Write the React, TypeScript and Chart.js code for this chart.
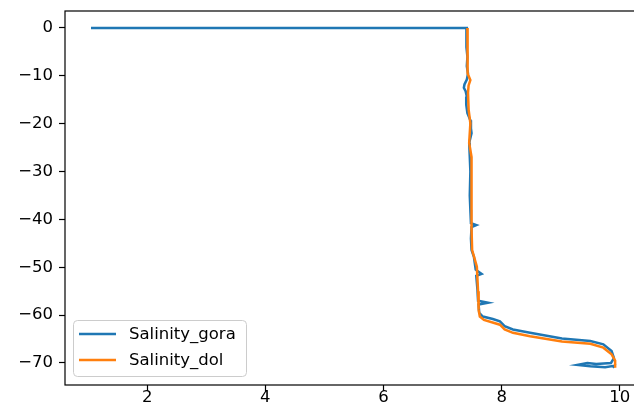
import React, { useEffect, useRef } from 'react';
import { Chart, registerables } from 'chart.js';

Chart.register(...registerables);

const seriesNames = ['Salinity_gora', 'Salinity_dol'];
const seriesColors = ['#1f77b4', '#ff7f0e'];

// Salinity_gora (salinity, depth)
const goraSalinity = [
  1.05, 7.41, 7.40, 7.41, 7.40, 7.42, 7.41, 7.43, 7.41, 7.37, 7.36, 7.39, 7.41, 7.40, 7.42, 7.47,
  7.48, 7.49, 7.45, 7.46, 7.47, 7.46, 7.47, 7.48, 7.57, 7.49, 7.48, 7.49, 7.53, 7.56, 7.66, 7.57,
  7.59, 7.60, 7.77, 7.61, 7.62, 7.68, 7.85, 7.97, 8.05, 8.19, 8.48, 9.02, 9.50, 9.72, 9.86, 9.90,
  9.85, 9.60, 9.45, 9.28, 9.50, 9.75, 9.90, 9.88,
];
const goraDepth = [
  0, 0, -0.5, -2, -4, -6, -8, -9.5, -10.8, -11.8, -12.5, -13.2, -14.3, -16, -17.8, -19.3,
  -21, -22, -24, -26.9, -30, -35, -38, -40.8, -41.2, -41.6, -44, -46.4, -47.8, -50.5, -51.4, -51.8,
  -54.7, -57, -57.4, -57.8, -59.5, -60.3, -60.8, -61.3, -62.3, -63.0, -63.7, -64.9, -65.4, -66.1, -67.5, -69.0,
  -70.0, -70.2, -70.0, -70.4, -70.7, -70.9, -70.6, -71.0,
];

// Salinity_dol (salinity, depth)
const dolSalinity = [
  7.42, 7.42, 7.43, 7.42, 7.47, 7.44, 7.43, 7.44, 7.47, 7.45, 7.49, 7.49, 7.49, 7.50, 7.58, 7.60,
  7.61, 7.63, 7.70, 7.97, 8.05, 8.19, 8.48, 9.02, 9.50, 9.72, 9.86, 9.92, 9.92,
];
const dolDepth = [
  0, -3, -6, -9.5, -10.9, -12, -13.5, -17, -19.9, -24, -27, -35, -42, -46.4, -49.9, -55,
  -58.9, -60.3, -61.0, -62.0, -63.0, -63.7, -64.4, -65.5, -66.0, -66.8, -68.2, -69.5, -71.0,
];

const xTickStep = 2;
const yTickStep = 10;
const xRange = [0.61, 10.29];
const yRange = [-74.6, 3.55];

const FONT_FAMILY = '"DejaVu Sans", sans-serif';
const FONT_SIZE = 16.5;

const framePlugin = {
  id: 'frame',
  afterDatasetsDraw(chart: any) {
    const { ctx, chartArea } = chart;
    ctx.save();
    ctx.strokeStyle = '#000';
    ctx.lineWidth = 1.2;
    ctx.strokeRect(chartArea.left, chartArea.top, chartArea.right - chartArea.left, chartArea.bottom - chartArea.top);
    ctx.restore();
  },
};

const legendPlugin = {
  id: 'mplLegend',
  afterDraw(chart: any) {
    const { ctx } = chart;
    const bx = 73.5, by = 320.5, bw = 173, bh = 56, r = 4;
    ctx.save();
    ctx.beginPath();
    ctx.moveTo(bx + r, by);
    ctx.lineTo(bx + bw - r, by);
    ctx.arcTo(bx + bw, by, bx + bw, by + r, r);
    ctx.lineTo(bx + bw, by + bh - r);
    ctx.arcTo(bx + bw, by + bh, bx + bw - r, by + bh, r);
    ctx.lineTo(bx + r, by + bh);
    ctx.arcTo(bx, by + bh, bx, by + bh - r, r);
    ctx.lineTo(bx, by + r);
    ctx.arcTo(bx, by, bx + r, by, r);
    ctx.closePath();
    ctx.fillStyle = 'rgba(255,255,255,0.8)';
    ctx.fill();
    ctx.strokeStyle = '#cccccc';
    ctx.lineWidth = 1;
    ctx.stroke();
    const rows = [334, 360];
    seriesNames.forEach((name, i) => {
      ctx.beginPath();
      ctx.strokeStyle = seriesColors[i];
      ctx.lineWidth = 2.5;
      ctx.moveTo(79, rows[i]);
      ctx.lineTo(116, rows[i]);
      ctx.stroke();
      ctx.fillStyle = '#000';
      ctx.font = `${FONT_SIZE}px ${FONT_FAMILY}`;
      ctx.textBaseline = 'middle';
      ctx.textAlign = 'left';
      ctx.fillText(name, 129, rows[i] + 1);
    });
    ctx.restore();
  },
};

export default function App() {
  const ref = useRef<HTMLCanvasElement | null>(null);
  useEffect(() => {
    if (!ref.current) return;
    const gora = goraSalinity.map((x, i) => ({ x, y: goraDepth[i] }));
    const dol = dolSalinity.map((x, i) => ({ x, y: dolDepth[i] }));
    const chart = new Chart(ref.current, {
      type: 'line',
      data: {
        datasets: [
          {
            label: seriesNames[0],
            data: gora,
            borderColor: seriesColors[0],
            borderWidth: 2.5,
            pointRadius: 0,
            tension: 0,
            order: 2,
          },
          {
            label: seriesNames[1],
            data: dol,
            borderColor: seriesColors[1],
            borderWidth: 2.5,
            pointRadius: 0,
            tension: 0,
            order: 1,
          },
        ],
      },
      plugins: [framePlugin, legendPlugin],
      options: {
        responsive: false,
        animation: false,
        layout: { padding: { left: 0, top: 11, right: 7, bottom: 0 } },
        plugins: { legend: { display: false }, tooltip: { enabled: false } },
        scales: {
          x: {
            type: 'linear',
            min: xRange[0],
            max: xRange[1],
            ticks: {
              stepSize: xTickStep,
              includeBounds: false,
              color: '#000',
              font: { family: FONT_FAMILY, size: FONT_SIZE },
              padding: -3,
              maxRotation: 0,
            },
            grid: { drawOnChartArea: false, tickLength: 6, tickColor: '#000', tickWidth: 1.2 },
            border: { display: false },
            afterFit: (s: any) => {
              s.height = 27;
              s.paddingLeft = 0;
              s.paddingRight = 0;
            },
          },
          y: {
            type: 'linear',
            min: yRange[0],
            max: yRange[1],
            ticks: {
              stepSize: yTickStep,
              includeBounds: false,
              color: '#000',
              font: { family: FONT_FAMILY, size: FONT_SIZE },
              padding: 6,
              callback: (v: any) => String(v).replace('-', '\u2212'),
            },
            grid: { drawOnChartArea: false, tickLength: 6, tickColor: '#000', tickWidth: 1.2 },
            border: { display: false },
            afterFit: (s: any) => {
              s.width = 65;
              s.paddingTop = 0;
              s.paddingBottom = 0;
            },
          },
        },
      },
    });
    return () => chart.destroy();
  }, []);
  return (
    <div style={{ position: 'fixed', left: 0, top: 0, width: 634, height: 412, overflow: 'hidden', background: '#fff' }}>
      <canvas ref={ref} width={644} height={412} style={{ display: 'block' }} />
    </div>
  );
}
